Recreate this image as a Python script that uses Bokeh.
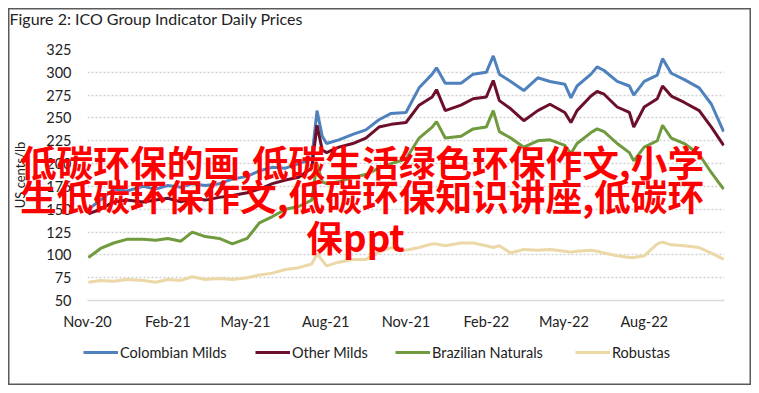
import pandas as pd
from bokeh.plotting import figure
from bokeh.models import Legend, LegendItem, Label, FixedTicker, Range1d
from bokeh.embed import file_html
from bokeh.resources import INLINE

# ---------------- data ----------------
dates = ["2020-11-02","2020-11-16","2020-12-01","2020-12-16","2021-01-04","2021-01-18",
         "2021-02-01","2021-02-16","2021-03-01","2021-03-16","2021-04-01","2021-04-16",
         "2021-05-03","2021-05-17","2021-06-01","2021-06-16","2021-07-01","2021-07-16",
         "2021-07-22","2021-07-28","2021-08-02","2021-08-16","2021-09-01","2021-09-16",
         "2021-10-01","2021-10-15","2021-11-01","2021-11-16","2021-12-01","2021-12-06",
         "2021-12-16","2022-01-03","2022-01-17","2022-02-01","2022-02-09","2022-02-16",
         "2022-03-01","2022-03-16","2022-04-01","2022-04-15","2022-05-02","2022-05-09",
         "2022-05-16","2022-06-01","2022-06-08","2022-06-16","2022-07-01","2022-07-15",
         "2022-07-20","2022-08-01","2022-08-16","2022-08-22","2022-09-01","2022-09-16",
         "2022-10-03","2022-10-17","2022-10-31"]

colombian_milds = [150,160,172,170,175,172,176,174,178,176,
                   178,183,186,192,196,195,200,205,258,230,
                   222,226,232,237,248,255,256,283,298,305,
                   288,288,298,300,318,298,290,280,294,290,
                   287,272,285,298,306,302,290,285,275,290,
                   297,315,299,292,283,265,235]
other_milds = [145,150,158,160,158,160,162,158,162,160,
               163,165,168,172,178,182,185,195,242,215,
               212,218,222,228,240,243,245,264,273,281,
               258,264,271,273,291,269,260,247,258,265,
               256,245,258,274,279,276,262,256,240,262,
               271,285,274,267,258,240,220]
brazilian_naturals = [97,107,113,117,117,116,118,115,125,120,
                      118,112,118,135,142,150,153,160,200,180,
                      178,180,185,188,195,200,205,228,240,246,
                      228,230,238,240,258,235,228,218,225,226,
                      220,211,222,234,238,235,222,212,203,218,
                      225,242,228,222,210,190,172]
robustas = [70,72,71,73,72,70,73,72,76,73,
            74,73,75,78,80,84,86,90,101,94,
            88,92,95,95,103,108,105,108,112,112,
            110,113,113,110,108,110,102,106,105,106,
            104,103,104,105,104,102,99,97,97,99,
            112,114,111,110,108,102,95]

series_names = ["Colombian Milds", "Other Milds", "Brazilian Naturals", "Robustas"]
series_colors = ["#4f81bd", "#6b0f2a", "#6f9a3d", "#ecd7a6"]

tick_dates = ["2020-11-01","2021-02-01","2021-05-01","2021-08-01","2021-11-01",
              "2022-02-01","2022-05-01","2022-08-01"]
tick_labels = ["Nov-20","Feb-21","May-21","Aug-21","Nov-21","Feb-22","May-22","Aug-22"]
y_ticks = [50,75,100,125,150,175,200,225,250,275,300,325]

title_text = "Figure 2: ICO Group Indicator Daily Prices"
y_label = "US cents/lb"
overlay_lines = ["低碳环保的画,低碳生活绿色环保作文,小学",
                 "生低碳环保作文,低碳环保知识讲座,低碳环",
                 "保ppt"]

# ---------------- main figure ----------------
FONT = "Lato"
W, H = 743, 377
x = pd.to_datetime(dates)
x0 = pd.Timestamp("2020-11-01")
x1 = pd.Timestamp("2022-11-01")
all_series = [colombian_milds, other_milds, brazilian_naturals, robustas]

p = figure(width=W, height=H, x_axis_type="datetime",
           output_backend="svg", toolbar_location=None,
           x_range=Range1d(x0, x1), y_range=Range1d(50, 325),
           min_border_left=79, min_border_right=27,
           min_border_top=41, min_border_bottom=85)
p.outline_line_color = None
p.background_fill_color = "white"
p.border_fill_color = "white"
p.styles = {"position": "absolute", "left": "8px", "top": "8px"}

for vals, c in zip(all_series, series_colors):
    p.line(x, vals, line_color=c, line_width=3)

tick_ms = [pd.Timestamp(d).value // 10**6 for d in tick_dates]
p.xaxis.ticker = FixedTicker(ticks=tick_ms)
p.xaxis.major_label_overrides = {t: l for t, l in zip(tick_ms, tick_labels)}
p.xaxis.axis_line_color = "#d9d9d9"
p.xaxis.axis_line_width = 1.5
p.xaxis.major_tick_line_color = None
p.xaxis.major_tick_out = 0
p.xaxis.major_tick_in = 0
p.xaxis.minor_tick_line_color = None
p.xaxis.minor_tick_out = 0
p.xaxis.major_label_standoff = 12
p.xaxis.major_label_text_font = FONT
p.xaxis.major_label_text_font_size = "14.5px"
p.xaxis.major_label_text_color = "#222222"

p.yaxis.ticker = FixedTicker(ticks=y_ticks)
p.yaxis.axis_line_color = None
p.yaxis.major_tick_line_color = None
p.yaxis.major_tick_out = 0
p.yaxis.major_tick_in = 0
p.yaxis.minor_tick_line_color = None
p.yaxis.minor_tick_out = 0
p.yaxis.major_label_standoff = 16
p.yaxis.major_label_text_font = FONT
p.yaxis.major_label_text_font_size = "14.5px"
p.yaxis.major_label_text_color = "#222222"
p.yaxis.axis_label = y_label
p.yaxis.axis_label_text_font = FONT
p.yaxis.axis_label_text_font_style = "normal"
p.yaxis.axis_label_text_font_size = "13px"
p.yaxis.axis_label_text_color = "#222222"
p.yaxis.axis_label_standoff = 15

p.xgrid.grid_line_color = None
p.ygrid.grid_line_color = "#d0d0d0"
p.ygrid.grid_line_dash = "2 2"
p.ygrid.grid_line_width = 1.5

# ---------------- overlay (title, legend, red text, outer border) ----------------
ov = figure(width=W, height=H, output_backend="svg", toolbar_location=None,
            x_range=Range1d(x0, x1), y_range=Range1d(50, 325),
            x_axis_location=None, y_axis_location=None, min_border=0)
ov.grid.visible = False
ov.background_fill_alpha = 0
ov.border_fill_alpha = 0
ov.outline_line_color = "#5a5a5a"
ov.outline_line_width = 2
ov.styles = {"position": "absolute", "left": "8px", "top": "8px"}

# legend entries (their lines are drawn in the main figure; here they are hidden)
leg_renderers = [ov.line(x, vals, line_color=c, line_width=3, visible=False)
                 for vals, c in zip(all_series, series_colors)]
legend_x = [75, 247, 387, 567]
for n, r, lx in zip(series_names, leg_renderers, legend_x):
    lg = Legend(items=[LegendItem(label=n, renderers=[r])], location=(lx, 23),
                glyph_width=35, glyph_height=20, label_standoff=2,
                padding=0, margin=0, border_line_color=None,
                background_fill_alpha=0, inactive_fill_alpha=0,
                label_text_font=FONT, label_text_font_size="14.5px",
                label_text_color="#222222")
    ov.add_layout(lg, "center")

ov.add_layout(Label(x=1, y=H, x_units="screen", y_units="screen",
                    text=title_text, text_font=FONT, text_font_size="16px",
                    text_color="#222222", text_baseline="top", text_align="left"))

for txt, xx, yy in zip(overlay_lines, [353.5, 353.5, 347], [H - 152, H - 186, H - 227]):
    ov.add_layout(Label(x=xx, y=yy, x_units="screen", y_units="screen", text=txt,
                        text_font="Noto Sans CJK SC", text_font_style="bold",
                        text_font_size="36.7px", text_color="#ff0000",
                        text_align="center", text_baseline="middle"))

open("out.html", "w").write(file_html([p, ov], INLINE))
